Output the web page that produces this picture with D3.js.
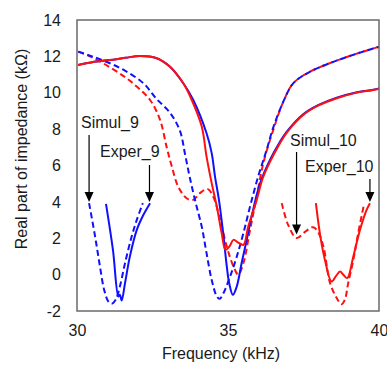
<!DOCTYPE html>
<html>
<head>
<meta charset="utf-8">
<script src="https://cdn.jsdelivr.net/npm/d3@7"></script>
<style>
  html, body { margin: 0; padding: 0; background: #fff; }
  svg { display: block; font-family: Arial, "Liberation Sans", sans-serif; }
</style>
</head>
<body>
<svg id="chart" width="387" height="365"></svg>
<script>
// Real part of impedance vs frequency, simulated (dashed) and measured (solid)
const xTicks = [30, 35, 40];
const yTicks = [-2, 0, 2, 4, 6, 8, 10, 12, 14];

// Full-range curves: [frequency kHz, real part kΩ]
const simul9 = [
  [30.04, 12.26], [30.5, 12.0], [31.09, 11.62], [31.6, 11.2], [32.2, 10.52],
  [32.64, 9.65], [33.08, 8.9], [33.41, 7.9], [33.58, 6.6], [33.74, 5.3],
  [33.93, 3.95], [34.13, 2.64], [34.29, 1.18], [34.46, -0.29], [34.63, -1.2],
  [34.72, -1.33], [34.84, -1.05], [35.07, -0.1], [35.29, 0.99], [35.51, 2.28],
  [35.73, 3.74], [36.0, 5.4], [36.28, 6.86], [36.5, 8.1], [36.83, 9.5],
  [37.16, 10.52], [37.72, 11.16], [38.82, 11.9], [40.0, 12.53]
];
const simul10 = [
  [30.04, 12.26], [30.5, 11.95], [31.09, 11.4], [31.6, 10.85], [31.98, 10.34],
  [32.42, 9.6], [32.75, 8.51], [32.97, 7.0], [33.14, 5.94], [33.35, 4.84],
  [33.63, 4.2], [33.85, 4.11], [34.07, 4.48], [34.33, 4.7], [34.51, 4.29],
  [34.74, 3.01], [34.96, 1.54], [35.18, 0.45], [35.34, 0.0], [35.51, 0.63],
  [35.73, 2.46], [35.95, 4.29], [36.17, 6.13], [36.5, 7.96], [36.83, 9.5],
  [37.16, 10.52], [37.72, 11.16], [38.82, 11.9], [40.0, 12.53]
];
const exper9 = [
  [30.04, 11.53], [30.5, 11.68], [31.09, 11.8], [31.6, 11.92], [32.09, 12.02],
  [32.64, 11.9], [33.08, 11.43], [33.52, 10.52], [33.85, 9.6], [34.29, 7.77],
  [34.46, 6.68], [34.57, 5.39], [34.7, 4.11], [34.84, 2.28], [34.96, 0.45],
  [35.04, -0.47], [35.16, -1.11], [35.29, -0.65], [35.45, 0.63], [35.62, 1.91],
  [35.78, 3.19], [36.06, 5.0], [36.39, 6.3], [36.72, 7.3], [36.94, 7.85],
  [37.49, 8.82], [38.0, 9.33], [38.6, 9.73], [39.2, 10.0], [39.81, 10.17], [40.0, 10.24]
];
const exper10 = [
  [30.04, 11.53], [30.5, 11.68], [31.09, 11.8], [31.6, 11.92], [32.09, 12.02],
  [32.64, 11.9], [33.08, 11.43], [33.52, 10.52], [33.8, 9.6], [34.13, 8.14],
  [34.29, 6.49], [34.46, 5.03], [34.63, 3.74], [34.79, 2.28], [34.92, 1.36],
  [35.05, 1.55], [35.18, 1.91], [35.35, 1.75], [35.51, 1.64], [35.67, 2.64],
  [35.95, 4.11], [36.15, 5.3], [36.39, 6.2], [36.72, 7.23], [36.94, 7.8],
  [37.49, 8.78], [38.0, 9.3], [38.6, 9.7], [39.2, 9.98], [39.81, 10.15], [40.0, 10.22]
];

// Close-up copies of the resonance dips
const simul9Zoom = [
  [30.4, 3.93], [30.6, 2.09], [30.76, 0.45], [30.9, -0.84], [31.04, -1.48],
  [31.15, -1.6], [31.28, -1.38], [31.42, -0.65], [31.59, 0.63], [31.81, 2.09],
  [31.98, 3.01], [32.18, 3.93]
];
const exper9Zoom = [
  [30.96, 3.89], [31.19, 1.36], [31.37, -1.2], [31.42, -1.1], [31.48, -1.42],
  [31.59, -0.47], [31.75, 0.99], [31.98, 2.46], [32.2, 3.29], [32.42, 3.93]
];
const simul10Zoom = [
  [36.78, 3.93], [36.99, 2.74], [37.27, 2.01], [37.55, 2.35], [37.82, 2.61],
  [37.98, 2.35], [38.16, 1.54], [38.38, -0.47], [38.6, -1.29], [38.76, -1.63],
  [38.87, -1.38], [38.98, -0.47], [39.15, 0.81], [39.31, 2.28], [39.5, 3.84]
];
const exper10Zoom = [
  [37.91, 3.93], [38.05, 2.19], [38.21, 0.81], [38.43, -0.38], [38.58, -0.07],
  [38.71, 0.17], [38.82, -0.01], [38.95, -0.19], [39.15, 1.0], [39.37, 2.46],
  [39.59, 3.56], [39.7, 3.93]
];

// Annotations: label, arrow tip position (data units)
const notes = [
  { text: "Simul_9", tip: [30.4, 4.0], tx: 81, ty: 128, ax0: 135 },
  { text: "Exper_9", tip: [32.4, 4.0], tx: 100, ty: 157, ax0: 165 },
  { text: "Simul_10", tip: [37.27, 2.2], tx: 290, ty: 146, ax0: 152 },
  { text: "Exper_10", tip: [39.7, 4.0], tx: 305, ty: 172, ax0: 179 }
];

const W = 387, H = 365;
const margin = { left: 77, right: 8, top: 20, bottom: 54 };
const svg = d3.select("#chart");

const x = d3.scaleLinear().domain([30, 40]).range([margin.left, W - margin.right]);
const y = d3.scaleLinear().domain([-2, 14]).range([H - margin.bottom, margin.top]);

const line = d3.line()
  .x(d => x(d[0])).y(d => y(d[1]))
  .curve(d3.curveCatmullRom.alpha(0.5));

const BLUE = "#1010ff", RED = "#ff1010";
const DASH = "6,3.5";

const plot = svg.append("g");
function draw(data, color, dashed) {
  plot.append("path")
    .datum(data)
    .attr("d", line)
    .attr("fill", "none")
    .attr("stroke", color)
    .attr("stroke-width", 2)
    .attr("stroke-linejoin", "round")
    .attr("stroke-dasharray", dashed ? DASH : null);
}

draw(simul10, RED, true);
draw(simul9, BLUE, true);
draw(exper9, BLUE, false);
draw(exper10, RED, false);
draw(simul9Zoom, BLUE, true);
draw(exper9Zoom, BLUE, false);
draw(simul10Zoom, RED, true);
draw(exper10Zoom, RED, false);

// Frame
svg.append("rect")
  .attr("x", x(30)).attr("y", y(14))
  .attr("width", x(40) - x(30)).attr("height", y(-2) - y(14))
  .attr("fill", "none").attr("stroke", "#6a6a6a").attr("stroke-width", 1.5);

// Axes (labels only, no tick marks); plain hyphen for negatives
const fmt = d => String(d);
const xAxis = d3.axisBottom(x).tickValues(xTicks).tickSize(0).tickPadding(0).tickFormat(fmt);
const gx = svg.append("g").attr("transform", `translate(0,${y(-2)})`).call(xAxis);
gx.select(".domain").remove();
gx.selectAll("text").attr("font-size", 16).attr("fill", "#1a1a1a").attr("dy", null).attr("y", 25)
  .attr("font-family", "Arial, 'Liberation Sans', sans-serif");

const yAxis = d3.axisLeft(y).tickValues(yTicks).tickSize(0).tickPadding(16).tickFormat(fmt);
const gy = svg.append("g").attr("transform", `translate(${x(30)},0)`).call(yAxis);
gy.select(".domain").remove();
gy.selectAll("text").attr("font-size", 16).attr("fill", "#1a1a1a")
  .attr("font-family", "Arial, 'Liberation Sans', sans-serif");

// Axis titles
svg.append("text")
  .attr("x", 221).attr("y", 359)
  .attr("text-anchor", "middle").attr("font-size", 16).attr("fill", "#1a1a1a")
  .text("Frequency (kHz)");
svg.append("text")
  .attr("transform", "translate(27,149) rotate(-90)")
  .attr("text-anchor", "middle").attr("font-size", 16).attr("fill", "#1a1a1a")
  .text("Real part of impedance (kΩ)");

// Annotation labels with arrows
const ann = svg.append("g");
notes.forEach(n => {
  ann.append("text")
    .attr("x", n.tx).attr("y", n.ty)
    .attr("font-size", 16).attr("fill", "#1a1a1a")
    .text(n.text);
  const tx = x(n.tip[0]), ty = y(n.tip[1]);
  ann.append("line")
    .attr("x1", tx).attr("x2", tx)
    .attr("y1", n.ax0).attr("y2", ty - 8)
    .attr("stroke", "#000").attr("stroke-width", 1.2);
  ann.append("path")
    .attr("d", `M${tx - 4.5},${ty - 10}L${tx + 4.5},${ty - 10}L${tx},${ty}Z`)
    .attr("fill", "#000");
});
</script>
</body>
</html>
